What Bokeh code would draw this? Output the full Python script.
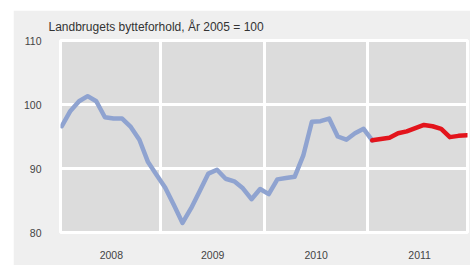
from bokeh.plotting import figure
from bokeh.models import Range1d, FixedTicker
from bokeh.embed import file_html
from bokeh.resources import INLINE

# Monthly index, Jan 2008 .. Dec 2011 (index 0..47)
blue_x = list(range(0, 37))
blue_y = [96.6, 99.0, 100.5, 101.3, 100.5, 98.0, 97.8, 97.8, 96.5, 94.5, 91.0, 89.0,
          87.0, 84.3, 81.5, 83.8, 86.5, 89.2, 89.8, 88.4, 88.0, 86.9, 85.2, 86.8,
          86.0, 88.3, 88.5, 88.7, 92.0, 97.3, 97.4, 97.8, 95.0, 94.5, 95.5, 96.2,
          94.4]
red_x = list(range(36, 48))
red_y = [94.4, 94.6, 94.8, 95.5, 95.8, 96.3, 96.8, 96.6, 96.2, 94.9, 95.1, 95.2]

year_ticks = [5.75, 17.5, 29.5, 41.5]
year_labels = ["2008", "2009", "2010", "2011"]
year_bounds = [11.5, 23.5, 35.5]
y_ticks = [80, 90, 100, 110]
title_text = "Landbrugets bytteforhold, År 2005 = 100"

FONT = "Liberation Sans"

p = figure(width=457, height=255, output_backend="svg", toolbar_location=None,
           x_range=Range1d(-0.15, 47.05), y_range=Range1d(80, 110),
           margin=(10, 0, 0, 13),
           min_border_left=47, min_border_right=3, min_border_top=30, min_border_bottom=33)

p.title.text = title_text
p.title.align = "left"
p.title.offset = -12
p.title.standoff = 13
p.title.text_font = FONT
p.title.text_font_size = "12px"
p.title.text_font_style = "normal"
p.title.text_color = "#333333"

p.background_fill_color = "#dcdcdc"
p.border_fill_color = "#efefef"
p.outline_line_color = "white"
p.outline_line_width = 3

# grids
p.xgrid.ticker = FixedTicker(ticks=year_bounds)
p.xgrid.grid_line_color = "white"
p.xgrid.grid_line_width = 3
p.ygrid.ticker = FixedTicker(ticks=[90, 100])
p.ygrid.grid_line_color = "white"
p.ygrid.grid_line_width = 3

# axes
p.xaxis.ticker = FixedTicker(ticks=year_ticks)
p.xaxis.major_label_overrides = {t: l for t, l in zip(year_ticks, year_labels)}
p.yaxis.ticker = FixedTicker(ticks=y_ticks)
for ax in (p.xaxis, p.yaxis):
    ax.axis_line_color = None
    ax.major_tick_line_color = None
    ax.minor_tick_line_color = None
    ax.major_label_text_font = FONT
    ax.major_label_text_font_size = "10.5px"
    ax.major_label_text_color = "#444444"
p.xaxis.major_label_standoff = 12
p.yaxis.major_label_standoff = 13

p.line(blue_x, blue_y, line_color="#8fa3d0", line_width=4.5, line_join="round", line_cap="round")
p.line(red_x, red_y, line_color="#e3141c", line_width=4.5, line_join="round", line_cap="round")

open("out.html", "w").write(file_html(p, INLINE))
